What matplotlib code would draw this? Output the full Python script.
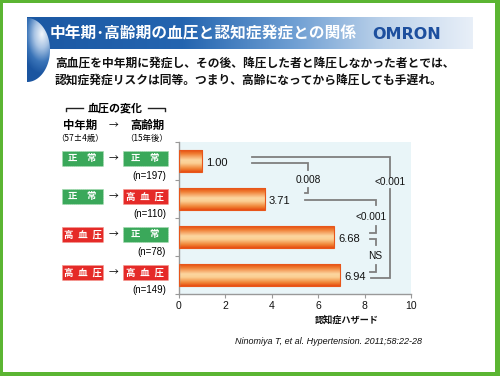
import numpy as np
import matplotlib
matplotlib.use('Agg')
import matplotlib.pyplot as plt
from matplotlib.colors import LinearSegmentedColormap
from matplotlib.patches import Rectangle, Polygon
from matplotlib.transforms import blended_transform_factory

plt.rcParams['font.family'] = ['Noto Sans CJK JP', 'DejaVu Sans']

# ---------------- data ----------------
title = '中年期･高齢期の血圧と認知症発症との関係'
subtitle_lines = ['高血圧を中年期に発症し、その後、降圧した者と降圧しなかった者とでは、',
                  '認知症発症リスクは同等。つまり、高齢になってから降圧しても手遅れ。']
midlife = ['正常', '正常', '高血圧', '高血圧']
latelife = ['正常', '高血圧', '正常', '高血圧']
n_counts = [197, 110, 78, 149]
hazard = [1.00, 3.71, 6.68, 6.94]
xticks = [0, 2, 4, 6, 8, 10]
p_labels = ['0.008', '<0.001', 'NS', '<0.001']
xlabel = '認知症ハザード'
citation = 'Ninomiya T, et al. Hypertension. 2011;58:22-28'

# ---------------- figure ----------------
W, H = 500, 376
fig = plt.figure(figsize=(W / 100, H / 100), dpi=100)
ov = fig.add_axes([0, 0, 1, 1], zorder=0)
ov.set_xlim(0, W)
ov.set_ylim(H, 0)
ov.axis('off')

# green frame
ov.add_patch(Rectangle((0, 0), W, H, facecolor='#5bb532', edgecolor='none'))
ov.add_patch(Rectangle((3, 3), 492, 369, facecolor='white', edgecolor='none'))

# banner gradient
bcmap = LinearSegmentedColormap.from_list('b', [(0, '#1b58a3'), (0.35, '#2465b0'),
                                                 (0.6, '#6f9fd3'), (0.8, '#bcd2ea'),
                                                 (1, '#e8eff8')])
grad = np.linspace(0, 1, 256)[None, :]
ov.imshow(grad, extent=[27, 473, 49, 17.5], cmap=bcmap, aspect='auto', zorder=1)

# left crescent (half ellipse) with radial gradient
t = np.linspace(-np.pi / 2, np.pi / 2, 100)
cx, cy, rx, ry = 27, 50, 23, 32
poly = Polygon(np.c_[cx + rx * np.cos(t), cy + ry * np.sin(t)], closed=True,
               facecolor='none', edgecolor='none')
ov.add_patch(poly)
gx, gy = np.meshgrid(np.linspace(27, 50, 60), np.linspace(18, 82, 120))
d = np.sqrt(((gx - 42) / 22) ** 2 + ((gy - 34) / 40) ** 2)
ccmap = LinearSegmentedColormap.from_list('c', [(0, '#f2f6fb'), (0.35, '#a9c4e4'),
                                                 (0.7, '#3a74b8'), (1, '#1b55a0')])
im = ov.imshow(np.clip(d, 0, 1), extent=[27, 50, 82, 18], cmap=ccmap, aspect='auto',
               vmin=0, vmax=1, zorder=2)
im.set_clip_path(poly)

ov.text(50, 33.5, title, color='white', fontsize=11.3, fontweight='bold',
        va='center', ha='left', zorder=3)
ov.text(372, 34.5, 'OMRON', color='#1d4f9e', fontsize=11.5, fontweight='bold',
        family=['DejaVu Sans'], va='center', ha='left', zorder=3)
for k, line in enumerate(subtitle_lines):
    ov.text(55, 63 + 17 * k, line, fontsize=8.45, fontweight='bold', va='center',
            ha='left', color='#111111')

# ---------------- main axes ----------------
ax = fig.add_axes([179 / W, 1 - 294 / H, 232 / W, 152 / H], zorder=2)
ax.set_facecolor('#e9f5f8')
ypos = np.arange(len(hazard))
bh = 0.57
bars = ax.barh(ypos, hazard, height=bh, color='none', edgecolor='#e8561a', linewidth=0.8,
               zorder=3)
gcmap = LinearSegmentedColormap.from_list('o', [(0, '#e64e12'), (0.15, '#ef7a30'),
                                                 (0.45, '#fcd6a0'), (0.6, '#fbcf93'),
                                                 (0.85, '#f08436'), (1, '#e64e12')])
vg = np.linspace(0, 1, 64)[:, None]
for b, y, v in zip(bars, ypos, hazard):
    g = ax.imshow(vg, extent=[0, v, y + bh / 2, y - bh / 2], cmap=gcmap, aspect='auto',
                  zorder=2)
    g.set_clip_path(b)
    ax.text(v + 0.17, y + 0.05, f'{v:.2f}', fontsize=8, va='center', ha='left',
            family=['Liberation Sans', 'DejaVu Sans'], color='#111111', zorder=4)

ax.set_xlim(0, 10)
ax.set_ylim(len(hazard) - 0.5, -0.5)
ax.set_xticks(xticks)
ax.set_xticklabels([str(v) for v in xticks], family=['Liberation Sans', 'DejaVu Sans'],
                   fontsize=7.5)
ax.set_yticks(np.arange(-0.5, len(hazard), 1.0))
ax.set_yticklabels([])
for s in ['top', 'right']:
    ax.spines[s].set_visible(False)
for s in ['left', 'bottom']:
    ax.spines[s].set_color('#999999')
    ax.spines[s].set_linewidth(1.0)
ax.tick_params(axis='both', color='#999999', length=3, width=0.8, pad=2)
ax.tick_params(axis='x', labelcolor='#111111')

# significance brackets: (label, path points, label position)
lc = '#7f7f7f'
brackets = [
    (p_labels[0], [[(3.15, 0.05), (5.56, 0.05), (5.56, 0.24)], [(5.56, 0.71), (5.56, 0.84), (5.43, 0.84)]], (5.56, 0.50)),
    (p_labels[1], [[(5.43, 1.03), (8.49, 1.03), (8.49, 1.16)], [(8.49, 1.71), (8.49, 1.90), (8.23, 1.90)]], (8.28, 1.48)),
    (p_labels[2], [[(8.23, 2.05), (8.49, 2.05), (8.49, 2.21)], [(8.49, 2.74), (8.49, 2.92), (8.23, 2.92)]], (8.45, 2.50)),
    (p_labels[3], [[(3.15, -0.11), (9.09, -0.11), (9.09, 0.42)], [(9.09, 0.74), (9.09, 3.08), (8.28, 3.08)]], (9.09, 0.56)),
]
for lab, paths, (tx, ty) in brackets:
    for p in paths:
        p = np.array(p)
        ax.plot(p[:, 0], p[:, 1], color=lc, lw=1.3, solid_joinstyle='miter', clip_on=False,
                zorder=5)
    ax.text(tx, ty, lab, fontsize=7.3, ha='center', va='center', color='#111111',
            family=['Liberation Sans Narrow', 'Liberation Sans', 'DejaVu Sans'], zorder=6)

ov.text(347, 320, xlabel, fontsize=6.6, fontweight='bold', ha='center', va='center',
        color='#111111')
ov.text(235, 342, citation, fontsize=6.5, style='italic', ha='left', va='center',
        family=['Liberation Sans Narrow', 'Liberation Sans', 'DejaVu Sans'], color='#111111')

# ---------------- left panel (rows aligned to bar rows) ----------------
tr = blended_transform_factory(ov.transData, ax.transData)
ov.plot([66, 66, 83], [111, 107.5, 107.5], color='#222222', lw=1.0)
ov.plot([148, 165, 165], [107.5, 107.5, 111], color='#222222', lw=1.0)
ov.text(115, 108, '血圧の変化', fontsize=7.9, fontweight='bold', ha='center', va='center')
ov.text(80, 125.5, '中年期', fontsize=8.2, fontweight='bold', ha='center', va='center')
ov.text(113, 125.5, '→', fontsize=7, ha='center', va='center')
ov.text(147, 125.5, '高齢期', fontsize=8.2, fontweight='bold', ha='center', va='center')
ov.text(80, 138.5, '（57±4歳）', fontsize=6, ha='center', va='center')
ov.text(147, 138.5, '（15年後）', fontsize=6, ha='center', va='center')

box_col = {'正常': ('#3aa85a', '#a6dcb2'), '高血圧': ('#e52a28', '#f59a90')}
spacer = {'正常': '\u3000', '高血圧': '\u2002'}
row_h = 15 / 38.0
for i, (a, b, n) in enumerate(zip(midlife, latelife, n_counts)):
    yc = i - 0.07
    for lab, x0, w in [(a, 62, 41), (b, 123, 45)]:
        fc, ec = box_col[lab]
        ov.add_patch(Rectangle((x0, yc - row_h / 2), w, row_h, transform=tr,
                               facecolor=fc, edgecolor=ec, lw=0.7, ls=(0, (1, 1))))
        ov.text(x0 + w / 2, yc, spacer[lab].join(lab), transform=tr, color='white',
                fontsize=6.8, fontweight='bold', ha='center', va='center')
    ov.text(113, yc, '→', transform=tr, fontsize=7, ha='center', va='center')
    ov.text(166, yc + 0.47, f'(n={n})', transform=tr, fontsize=7, ha='right',
            va='center', family=['Liberation Sans Narrow', 'Liberation Sans', 'DejaVu Sans'])

fig.savefig('out.png', dpi=100)
